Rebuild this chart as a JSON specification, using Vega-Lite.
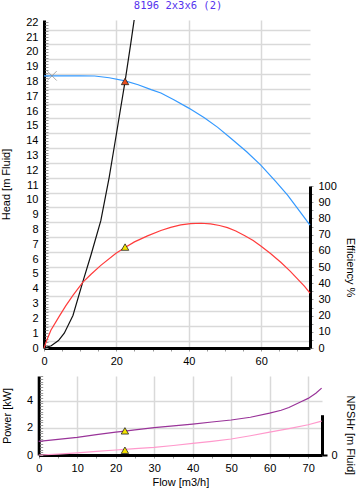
{
  "$schema": "https://vega.github.io/schema/vega-lite/v6.json",
  "padding": {"left": 0, "top": 0, "right": 1, "bottom": 2},
  "autosize": {"type": "pad"},
  "background": "white",
  "title": {"text": "8196 2x3x6 (2)", "font": "DejaVu Sans Mono", "fontSize": 10.5, "fontWeight": "normal", "color": "#5533ee", "offset": 5, "anchor": "middle"},
  "config": {
    "view": {"stroke": null},
    "axis": {"labelFont": "Liberation Sans", "titleFont": "Liberation Sans", "labelFontSize": 11, "titleFontSize": 11, "titleFontWeight": "normal", "labelColor": "#000", "titleColor": "#000", "labelOverlap": false, "labelFlush": false, "gridColor": "#d9d9d9", "gridWidth": 1.5}
  },
  "datasets": {
    "head": [{"flow":0,"head":18.38},{"flow":5,"head":18.38},{"flow":10,"head":18.38},{"flow":14,"head":18.37},{"flow":18,"head":18.25},{"flow":22.4,"head":18.04},{"flow":26,"head":17.78},{"flow":29.6,"head":17.45},{"flow":32.3,"head":17.22},{"flow":36,"head":16.75},{"flow":40,"head":16.2},{"flow":44.3,"head":15.55},{"flow":48,"head":14.9},{"flow":51.7,"head":14.15},{"flow":56,"head":13.25},{"flow":59.9,"head":12.35},{"flow":64,"head":11.25},{"flow":67.3,"head":10.32},{"flow":70,"head":9.45},{"flow":73.5,"head":8.3}],
    "system": [{"flow":0,"head":0},{"flow":2,"head":0.15},{"flow":4,"head":0.5},{"flow":5.6,"head":1.0},{"flow":8,"head":2.2},{"flow":10.7,"head":4.45},{"flow":13,"head":6.3},{"flow":15.7,"head":8.6},{"flow":18,"head":11.5},{"flow":19.9,"head":14.3},{"flow":22.4,"head":18.0},{"flow":24,"head":20.6},{"flow":25,"head":22.3}],
    "efficiency": [{"flow":0,"eff":0},{"flow":0.8,"eff":5},{"flow":1.9,"eff":11},{"flow":4.2,"eff":19.5},{"flow":6,"eff":26},{"flow":8,"eff":32.5},{"flow":10.7,"eff":40.5},{"flow":13,"eff":45.5},{"flow":15.7,"eff":51},{"flow":19.9,"eff":58.5},{"flow":22.4,"eff":62},{"flow":25,"eff":65.5},{"flow":28.6,"eff":69.2},{"flow":32.3,"eff":72.5},{"flow":35,"eff":74.5},{"flow":37.8,"eff":76},{"flow":40.5,"eff":76.8},{"flow":43.4,"eff":77},{"flow":46,"eff":76.6},{"flow":48.5,"eff":75.6},{"flow":50.7,"eff":74.3},{"flow":53,"eff":72.2},{"flow":55.5,"eff":69.3},{"flow":57.8,"eff":66.3},{"flow":59.9,"eff":63},{"flow":62.5,"eff":58.5},{"flow":65.5,"eff":52.8},{"flow":68,"eff":47.5},{"flow":70.1,"eff":42.5},{"flow":72,"eff":38},{"flow":73.5,"eff":33.8}],
    "power": [{"flow":0,"kw":1.0},{"flow":5,"kw":1.15},{"flow":10,"kw":1.3},{"flow":15,"kw":1.5},{"flow":20,"kw":1.69},{"flow":22.4,"kw":1.76},{"flow":25,"kw":1.85},{"flow":30,"kw":2.01},{"flow":35,"kw":2.15},{"flow":40,"kw":2.28},{"flow":45,"kw":2.43},{"flow":50,"kw":2.58},{"flow":55,"kw":2.78},{"flow":60,"kw":3.08},{"flow":63,"kw":3.3},{"flow":65,"kw":3.5},{"flow":68,"kw":3.9},{"flow":70,"kw":4.17},{"flow":72,"kw":4.55},{"flow":73.5,"kw":4.93}],
    "npsh": [{"flow":0,"npsh":0.0},{"flow":5,"npsh":0.07},{"flow":10,"npsh":0.15},{"flow":15,"npsh":0.26},{"flow":20,"npsh":0.37},{"flow":22.4,"npsh":0.42},{"flow":25,"npsh":0.47},{"flow":30,"npsh":0.56},{"flow":35,"npsh":0.7},{"flow":40,"npsh":0.85},{"flow":45,"npsh":1.0},{"flow":50,"npsh":1.18},{"flow":55,"npsh":1.42},{"flow":60,"npsh":1.69},{"flow":65,"npsh":1.95},{"flow":70,"npsh":2.23},{"flow":73.5,"npsh":2.5}],
    "duty": [{"curve":"head","flow":22.4,"value":18.0},{"curve":"eff","flow":22.4,"value":62.3},{"curve":"power","flow":22.4,"value":1.78},{"curve":"npsh","flow":22.4,"value":0.35},{"curve":"shutoff","flow":2.2,"value":18.38}]
  },
  "spacing": 9,
  "vconcat": [
    {
      "width": 266,
      "height": 328,
      "encoding": {
        "x": {"field": "flow", "type": "quantitative", "scale": {"domain": [0, 73.5], "nice": false, "zero": false},
          "axis": {"values": [0,5,10,15,20,25,30,35,40,45,50,55,60,65,70], "labelExpr": "datum.value % 20 === 0 ? datum.label : ''", "title": null, "grid": true, "gridOpacity": {"condition": {"test": "datum.value % 20 === 0 && datum.value > 0", "value": 1}, "value": 0}, "domainColor": "#000", "domainWidth": 3, "tickColor": "#999", "tickSize": 3, "labelPadding": 4}}
      },
      "layer": [
        {
          "data": {"name": "head"},
          "mark": {"type": "line", "color": "#3399ff", "strokeWidth": 1.2},
          "encoding": {"y": {"field": "head", "type": "quantitative", "scale": {"domain": [0, 22.15], "nice": false},
            "axis": {"orient": "left", "values": [0,1,2,3,4,5,6,7,8,9,10,11,12,13,14,15,16,17,18,19,20,21,22], "ticks": false, "labelPadding": 6, "grid": false, "domainColor": "#000", "domainWidth": 3, "title": "Head [m Fluid]", "titlePadding": 14}}}
        },
        {
          "data": {"name": "system"},
          "mark": {"type": "line", "color": "#111", "strokeWidth": 1.2, "clip": true},
          "encoding": {"y": {"field": "head", "type": "quantitative", "scale": {"domain": [0, 22.15], "nice": false},
            "axis": {"orient": "left", "values": [0.5,1.5,2.5,3.5,4.5,5.5,6.5,7.5,8.5,9.5,10.5,11.5,12.5,13.5,14.5,15.5,16.5,17.5,18.5,19.5,20.5,21.5], "grid": true, "labels": false, "ticks": false, "domain": false, "title": null}}}
        },
        {
          "data": {"name": "duty"},
          "transform": [{"filter": "datum.curve === 'shutoff'"}],
          "mark": {"type": "point", "shape": "M-1,-1L1,1M-1,1L1,-1", "filled": false, "stroke": "#888", "strokeWidth": 1, "size": 90},
          "encoding": {"y": {"field": "value", "type": "quantitative", "scale": {"domain": [0, 22.15], "nice": false},
            "axis": {"orient": "left", "tickCount": 110, "labels": false, "domain": false, "grid": false, "ticks": true, "tickSize": 3, "tickColor": "#999", "offset": -4, "title": null}}}
        },
        {
          "data": {"name": "duty"},
          "transform": [{"filter": "datum.curve === 'head'"}],
          "mark": {"type": "point", "shape": "triangle-up", "filled": true, "fill": "#e84c1c", "stroke": "#222", "strokeWidth": 0.8, "size": 55, "opacity": 1},
          "encoding": {"y": {"field": "value", "type": "quantitative", "scale": {"domain": [0, 22.15], "nice": false}, "axis": null}}
        },
        {
          "data": {"name": "efficiency"},
          "mark": {"type": "line", "color": "#ff3b3b", "strokeWidth": 1.2},
          "encoding": {"y": {"field": "eff", "type": "quantitative", "scale": {"domain": [0, 100], "range": [328, 166], "nice": false},
            "axis": {"orient": "right", "values": [0,5,10,15,20,25,30,35,40,45,50,55,60,65,70,75,80,85,90,95,100], "labelExpr": "datum.value % 10 === 0 ? datum.label : ''", "domain": true, "domainColor": "#000", "domainWidth": 3, "grid": false, "tickSize": 3, "tickColor": "#999", "labelPadding": 5, "title": "Efficiency %", "titlePadding": 8}}}
        },
        {
          "data": {"name": "duty"},
          "transform": [{"filter": "datum.curve === 'eff'"}],
          "mark": {"type": "point", "shape": "triangle-up", "filled": true, "fill": "#f5e400", "stroke": "#222", "strokeWidth": 0.8, "size": 55, "opacity": 1},
          "encoding": {"y": {"field": "value", "type": "quantitative", "scale": {"domain": [0, 100], "range": [328, 166], "nice": false}, "axis": null}}
        }
      ],
      "resolve": {"scale": {"y": "independent"}, "axis": {"y": "independent"}}
    },
    {
      "width": 278,
      "height": 79,
      "encoding": {
        "x": {"field": "flow", "type": "quantitative", "scale": {"domain": [0, 73.6], "range": [-5.3, 278], "nice": false, "zero": false},
          "axis": {"values": [0,5,10,15,20,25,30,35,40,45,50,55,60,65,70], "labelExpr": "datum.value % 10 === 0 ? datum.label : ''", "title": "Flow [m3/h]", "titlePadding": 3, "grid": true, "gridOpacity": {"condition": {"test": "datum.value % 10 === 0 && datum.value > 0", "value": 1}, "value": 0}, "domainColor": "#000", "domainWidth": 3, "tickColor": "#999", "tickSize": 3, "labelPadding": 4}}
      },
      "layer": [
        {
          "data": {"name": "power"},
          "mark": {"type": "line", "color": "#993399", "strokeWidth": 1.2},
          "encoding": {"y": {"field": "kw", "type": "quantitative", "scale": {"domain": [0, 5.82], "nice": false},
            "axis": {"orient": "left", "offset": 5.3, "values": [0, 2, 4], "ticks": false, "labelPadding": 6, "grid": true, "gridOpacity": {"condition": {"test": "datum.value > 0", "value": 1}, "value": 0}, "domainColor": "#000", "domainWidth": 3, "title": "Power [kW]", "titlePadding": 14}}}
        },
        {
          "data": {"name": "npsh"},
          "mark": {"type": "line", "color": "#ff99cc", "strokeWidth": 1.2},
          "encoding": {"y": {"field": "npsh", "type": "quantitative", "scale": {"domain": [0, 2.97], "range": [79, 38.7], "nice": false},
            "axis": {"orient": "right", "values": [0], "domain": true, "domainColor": "#000", "domainWidth": 3, "grid": false, "tickSize": 5, "tickColor": "#000", "tickWidth": 2, "labelPadding": 4, "title": "NPSHr [m Fluid]", "titlePadding": 7}}}
        },
        {
          "data": {"name": "duty"},
          "transform": [{"filter": "datum.curve === 'power' || datum.curve === 'npsh'"}],
          "mark": {"type": "point", "shape": "triangle-up", "filled": true, "fill": "#f5e400", "stroke": "#222", "strokeWidth": 0.8, "size": 55, "opacity": 1},
          "encoding": {"y": {"field": "value", "type": "quantitative", "scale": {"domain": [0, 5.82], "nice": false},
            "axis": {"orient": "left", "tickCount": 24, "labels": false, "domain": false, "grid": false, "ticks": true, "tickSize": 3, "tickColor": "#999", "offset": 1.3, "title": null}}}
        }
      ],
      "resolve": {"scale": {"y": "independent"}, "axis": {"y": "independent"}}
    }
  ]
}
